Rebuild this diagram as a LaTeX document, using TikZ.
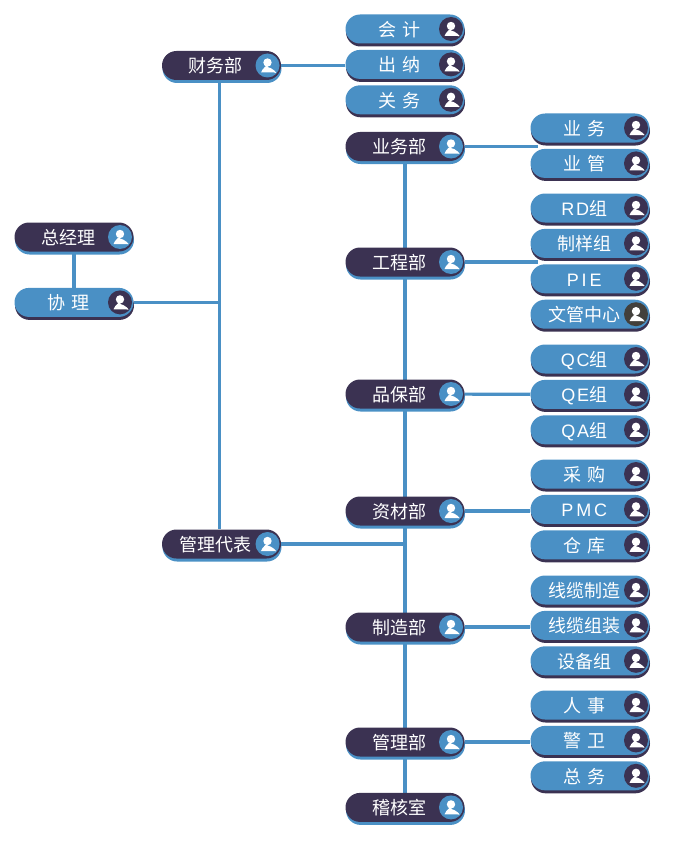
\documentclass[tikz,border=0pt]{standalone}
\usepackage{fontspec}
\setmainfont[WordSpace=2.6]{Noto Sans CJK SC}
\newfontfamily\latinfont[LetterSpace=10]{Liberation Sans}
\newfontfamily\widefont[LetterSpace=16]{Liberation Sans}
\usetikzlibrary{positioning,shadows,backgrounds,calc}
\definecolor{orgDark}{RGB}{59,50,82}
\definecolor{orgBlue}{RGB}{74,144,197}
\definecolor{orgGrey}{RGB}{66,64,60}
\newcommand{\personicon}[2]{%
  \begin{scope}[sharp corners]
  \fill[#1] ([xshift=46pt]path picture bounding box.center) circle (12pt);
  \fill[#2] ([xshift=46pt,yshift=3pt]path picture bounding box.center) circle (4.2pt);
  \fill[#2] ([xshift=39.5pt,yshift=-7pt]path picture bounding box.center)
    .. controls +(0.5pt,3.5pt) and +(3pt,5.5pt) .. ++(6.5pt,5.5pt)
    .. controls +(3.5pt,0pt) and +(6pt,-2pt) .. ++(6.5pt,-5.5pt) -- cycle;
  \end{scope}}
\begin{document}
\begin{tikzpicture}[
    x=1pt, y=-1pt,
    pill/.style={rounded corners=14.5pt, text=white, inner xsep=0pt, inner ysep=0pt, align=center,
      text width=119pt, minimum width=119pt, minimum height=29pt, text height=16pt, text depth=1.4pt,
      font=\fontsize{18pt}{20pt}\selectfont, execute at end node={\hspace*{11.5pt}}},
    darkbox/.style={pill, fill=orgDark, general shadow={fill=orgBlue, shadow xshift=0.5pt, shadow yshift=-3pt},
      path picture={\personicon{orgBlue}{white}}},
    bluebox/.style={pill, fill=orgBlue, general shadow={fill=orgDark, shadow xshift=0.5pt, shadow yshift=-3pt},
      path picture={\personicon{orgDark}{white}}},
    link/.style={line width=3.2pt, orgBlue}
  ]
    \useasboundingbox (0,0) rectangle (676,848);
    % left side
    \node[darkbox] (gm) at (74,237) {总经理};
    \node[bluebox, below=36pt of gm] (assist) {协 理};
    \node[darkbox] (finance) at (221.5,65.5) {财务部};
    \node[darkbox] (rep) at (221.5,544) {管理代表};
    % finance group
    \node[bluebox] (acct) at (405,29) {会 计};
    \node[bluebox, below=6pt of acct] (cashier) {出 纳};
    \node[bluebox, below=6pt of cashier] (customs) {关 务};
    % departments
    \node[darkbox] (sales) at (405,146.5) {业务部};
    \node[darkbox] (eng) at (405,262) {工程部};
    \node[darkbox] (qual) at (405,394) {品保部};
    \node[darkbox] (supply) at (405,511) {资材部};
    \node[darkbox] (mfg) at (405,627) {制造部};
    \node[darkbox] (admin) at (405,742) {管理部};
    \node[darkbox, below=36pt of admin] (audit) {稽核室};
    % sub groups
    \node[bluebox] (salesA) at (590,128) {业 务};
    \node[bluebox, below=6pt of salesA] (salesB) {业 管};
    \node[bluebox] (rd) at (590,208) {{\latinfont RD}组};
    \node[bluebox, below=6pt of rd] (sample) {制样组};
    \node[bluebox, below=6pt of sample] (pie) {{\widefont PIE}};
    \node[bluebox, below=6pt of pie, path picture={\personicon{orgGrey}{white}}] (docs) {文管中心};
    \node[bluebox] (qc) at (590,359) {{\latinfont QC}组};
    \node[bluebox, below=6pt of qc] (qe) {{\latinfont QE}组};
    \node[bluebox, below=6pt of qe] (qa) {{\latinfont QA}组};
    \node[bluebox] (buy) at (590,474) {采 购};
    \node[bluebox, below=6pt of buy] (pmc) {{\widefont PMC}};
    \node[bluebox, below=6pt of pmc] (store) {仓 库};
    \node[bluebox] (cableA) at (590,590) {线缆制造};
    \node[bluebox, below=6pt of cableA] (cableB) {线缆组装};
    \node[bluebox, below=6pt of cableB] (equip) {设备组};
    \node[bluebox] (hr) at (590,705) {人 事};
    \node[bluebox, below=6pt of hr] (guard) {警 卫};
    \node[bluebox, below=6pt of guard] (general) {总 务};
    \begin{scope}[on background layer]
      \coordinate (salesEnd) at (538,146.5);
      \coordinate (engEnd) at (538,262);
      \coordinate (trunkA) at ([xshift=-2pt]finance.south);
      \coordinate (trunkB) at ([xshift=-2pt]rep.north);
      \draw[link] (gm) -- (assist);
      \draw[link] (assist.east) -- (assist.east -| trunkA);
      \draw[link] (trunkA) -- (trunkB);
      \draw[link] (finance) -- (finance -| cashier.west);
      \draw[link] (rep.east) -- (rep.east -| audit);
      \draw[link] (sales) -- (audit);
      \draw[link] (sales) -- (salesEnd);
      \draw[link] (eng) -- (engEnd);
      \draw[link] (qual) -- (qe);
      \draw[link] (supply) -- (supply -| pmc.west);
      \draw[link] (mfg) -- (mfg -| cableB.west);
      \draw[link] (admin) -- (admin -| guard.west);
    \end{scope}
  \end{tikzpicture}
\end{document}
